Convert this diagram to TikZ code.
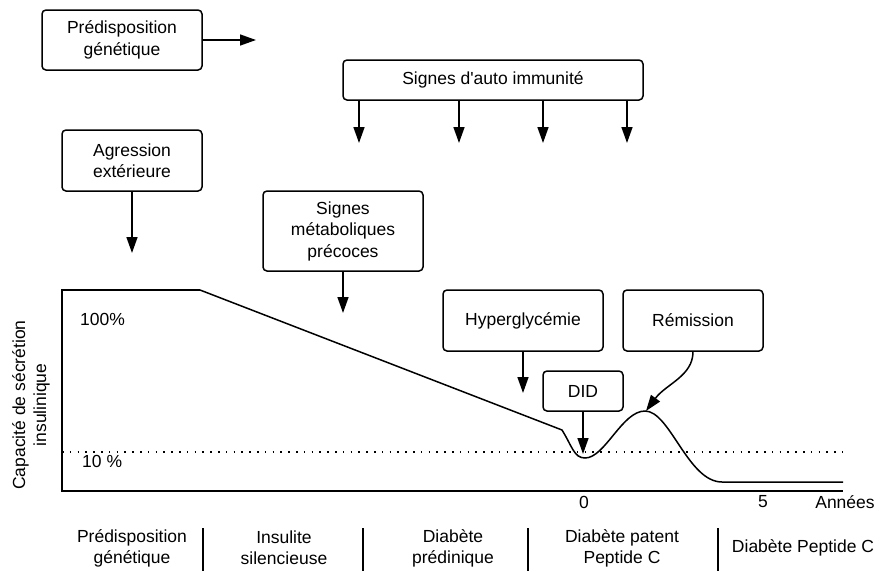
\documentclass[tikz,border=0pt]{standalone}
\usepackage{fontspec}
\setmainfont{Liberation Sans}
\usetikzlibrary{arrows.meta, positioning}

\tikzset{
	box/.style={draw, line width=1.5pt, rounded corners=4pt, align=center, inner sep=0pt, font=\fontsize{17.5}{21.5}\selectfont},
	lbl/.style={align=center, inner sep=0pt, font=\fontsize{17.5}{21}\selectfont},
	arr/.style={line width=1.5pt, -{Triangle[width=11pt,length=16pt]}},
	sep/.style={line width=1.5pt},
}

\begin{document}
\begin{tikzpicture}[x=1pt,y=-1pt]
		\useasboundingbox (0,0) rectangle (887,571);
		% boxes
		\node[box, minimum width=160pt, minimum height=60pt] (pred) at (122,40) {Prédisposition\\génétique};
		\node[box, minimum width=300pt, minimum height=40pt] (auto) at (493,80) {Signes d\textquotesingle auto immunité};
		\node[box, minimum width=140pt, minimum height=61pt] (agr) at (132,160.5) {Agression\\extérieure};
		\node[box, minimum width=160pt, minimum height=80pt] (meta) at (343,231) {Signes\\métaboliques\\précoces};
		\node[box, minimum width=160pt, minimum height=61pt] (hyper) at (523,320.5) {Hyperglycémie};
		\node[box, minimum width=140pt, minimum height=61pt] (remi) at (693,320.5) {Rémission};
		\node[box, minimum width=80pt, minimum height=40pt] (did) at (583,391) {DID};

		% free ends
		\coordinate (predEnd) at (256,40);
		\coordinate (agrEnd) at (132,253);
		\coordinate (metaEnd) at (343,313);
		\coordinate (hyperEnd) at (523,393);
		\coordinate (didEnd) at (583,454);
		\coordinate (peak) at (646,411);
		\foreach \i/\x in {1/359, 2/459, 3/543, 4/627}
			\coordinate (auto\i) at (\x,143);

		\path[arr]
			(pred) edge (predEnd)
			(agr) edge (agrEnd)
			(meta) edge (metaEnd)
			(hyper) edge (hyperEnd)
			(did) edge (didEnd);
		\foreach \i in {1,...,4}
			\draw[arr] (auto\i |- auto.south) -- (auto\i);
		\draw[arr] (remi.south) .. controls (693,376) and (666,384) .. (peak);

		% chart
		\draw[line width=1.5pt] (200,290) -- (62,290) -- (62,491) -- (843,491);
		\draw[line width=1.5pt] (200,290) -- (562,430)
			.. controls (572,446) and (574,458) .. (585,458)
			.. controls (605,458) and (622,411) .. (645,411)
			.. controls (670,411) and (688,482) .. (722,482) -- (843,482);
		\draw[line width=1.6pt, dash pattern=on 1.6pt off 6.2pt] (62,452) -- (843,452);

		\node[lbl, anchor=west] (p100) at (80,319) {100\%};
		\node[lbl, anchor=west] (p10) at (82,461) {10 \%};
		\node[lbl, rotate=90] (ylab) at (31,405) {Capacité de sécrétion\\insulinique};
		\node[lbl] (t0) at (584,502) {0};
		\node[lbl] (t5) at (763,502) {5};
		\node[lbl] (years) at (845,502) {Années};

		% phases
		\node[lbl] (ph1) at (132,548) {Prédisposition\\génétique};
		\node[lbl] (ph2) at (284,548) {Insulite\\silencieuse};
		\node[lbl] (ph3) at (453,548) {Diabète\\prédinique};
		\node[lbl] (ph4) at (622,548) {Diabète patent\\Peptide C};
		\node[lbl] (ph5) at (803,548) {Diabète Peptide C};
		\foreach \x in {203, 363, 528, 718}
			\draw[sep] (\x,528) -- (\x,571);
	\end{tikzpicture}
\end{document}
